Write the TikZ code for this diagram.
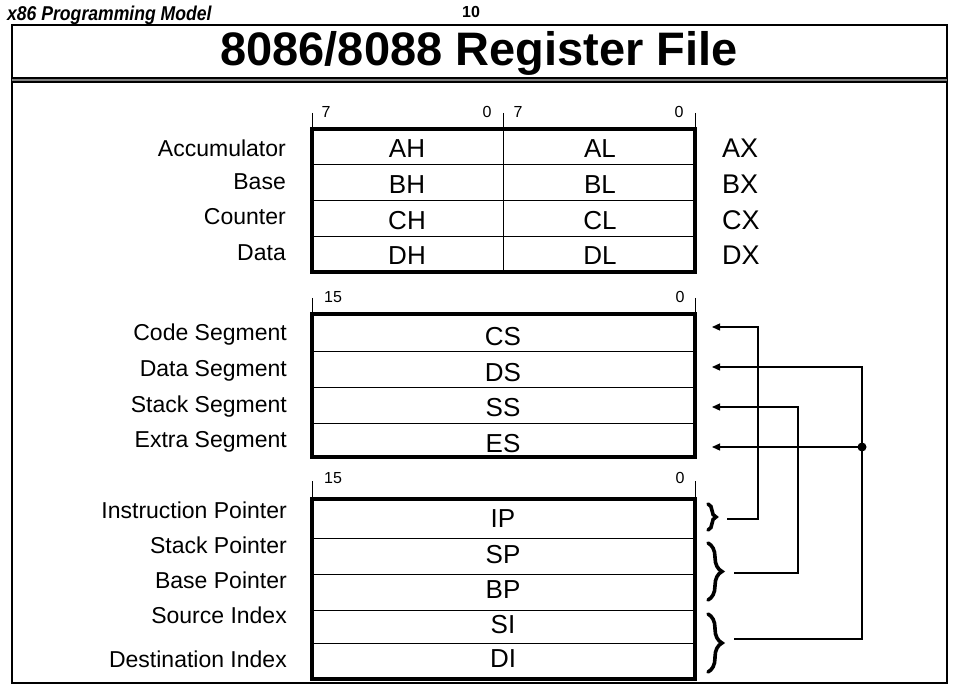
\documentclass[tikz,border=0pt]{standalone}
\usepackage{fontspec}
\setmainfont{Liberation Sans}
\usetikzlibrary{arrows.meta,decorations.pathreplacing}

\tikzset{
  regbox/.style={line width=4pt},
  rowline/.style={line width=1pt},
  regname/.style={anchor=base,inner sep=0,font=\fontsize{26}{30}\selectfont},
  pairname/.style={anchor=base west,inner sep=0,font=\fontsize{27}{30}\selectfont},
  reglabel/.style={anchor=base east,inner sep=0,font=\fontsize{23}{27}\selectfont},
  bitnum/.style={inner sep=0,font=\fontsize{16}{18}\selectfont},
  bittick/.style={line width=0.8pt},
  conn/.style={line width=1.3pt,-{Triangle[length=8pt,width=7pt]}},
  regbrace/.style={decorate,decoration={brace,amplitude=#1},line width=3.6pt,line cap=round},
}

\begin{document}
\begin{tikzpicture}[x=1pt,y=-1pt]
\useasboundingbox (0,0) rectangle (960,692);

% page header
\node[anchor=base west,inner sep=0,xscale=0.88,transform shape,font=\bfseries\itshape\fontsize{20}{22}\selectfont] (hdr) at (7,21) {x86 Programming Model};
\node[anchor=base,inner sep=0,font=\bfseries\fontsize{16}{18}\selectfont] (pageno) at (471,18) {10};

% slide frame and title
\draw[line width=1.5pt] (12,25) rectangle (947,683);
\node[anchor=base,inner sep=0,font=\bfseries\fontsize{47}{50}\selectfont] (title) at (479,66) {8086/8088 Register File};
\draw[line width=1.2pt] (12,78) -- (947,78);
\draw[gray,line width=1.5pt] (12,79.8) -- (947,79.8);
\draw[line width=2.2pt] (12,81.8) -- (947,81.8);

% general registers
\draw[regbox] (312,129) rectangle (695,272.5);
\foreach \y in {165,201,237} \draw[rowline] (312,\y) -- (695,\y);
\draw[rowline] (503,129) -- (503,272.5);
\foreach \x in {312,503,695} \draw[bittick] (\x,113) -- (\x,129);
\node[bitnum] (hi7) at (326,112) {7};
\node[bitnum] (hi0) at (487,112) {0};
\node[bitnum] (lo7) at (518,112) {7};
\node[bitnum] (lo0) at (679,112) {0};

\foreach \n/\y in {A/158,B/194,C/230,D/265} {
  \node[regname] (r\n h) at (407,\y) {\n H};
  \node[regname] (r\n l) at (600,\y) {\n L};
  \node[pairname] (r\n x) at (722,\y) {\n X};
}
\node[reglabel] (acc) at (286,157) {Accumulator};
\node[reglabel] (base) at (286,190) {Base};
\node[reglabel] (cnt) at (286,225) {Counter};
\node[reglabel] (data) at (286,261) {Data};

% segment registers
\draw[regbox] (312,314) rectangle (695,457);
\foreach \y in {351,387,423} \draw[rowline] (312,\y) -- (695,\y);
\foreach \x in {312,695} \draw[bittick] (\x,298) -- (\x,314);
\node[bitnum] (seg15) at (333,297) {15};
\node[bitnum] (seg0) at (680,297) {0};

\foreach \n/\y in {CS/345,DS/381,SS/416,ES/452}
  \node[regname] (\n) at (503,\y) {\n};
\node[reglabel] (cseg) at (287,340) {Code Segment};
\node[reglabel] (dseg) at (287,376) {Data Segment};
\node[reglabel] (sseg) at (287,412) {Stack Segment};
\node[reglabel] (eseg) at (287,447) {Extra Segment};

% pointer and index registers
\draw[regbox] (312,499) rectangle (695,679);
\foreach \y in {538,574,610,643} \draw[rowline] (312,\y) -- (695,\y);
\foreach \x in {312,695} \draw[bittick] (\x,481) -- (\x,499);
\node[bitnum] (ptr15) at (333,478) {15};
\node[bitnum] (ptr0) at (680,478) {0};

\foreach \n/\y in {IP/527,SP/563,BP/598,SI/633,DI/667}
  \node[regname] (\n) at (503,\y) {\n};
\node[reglabel] (iptr) at (287,518) {Instruction Pointer};
\node[reglabel] (sptr) at (287,553) {Stack Pointer};
\node[reglabel] (bptr) at (287,588) {Base Pointer};
\node[reglabel] (sidx) at (287,623) {Source Index};
\node[reglabel] (didx) at (287,667) {Destination Index};

% default segments
\draw[regbrace=8pt] (708,504) -- (708,530);
\draw[regbrace=14pt] (708,543) -- (708,600);
\draw[regbrace=14pt] (708,614) -- (708,672);

\coordinate (csin) at (712,327);
\coordinate (dsin) at (712,367);
\coordinate (ssin) at (712,407);
\coordinate (esin) at (712,447);
\coordinate (ipb) at (727,519);
\coordinate (spb) at (734,573);
\coordinate (sib) at (734,639);
\node[circle,fill,inner sep=0,minimum size=9pt] (dot) at (862,447) {};

\draw[conn] (ipb) -- ++(31,0) |- (csin);
\draw[conn] (spb) -- ++(64,0) |- (ssin);
\draw[conn] (sib) -- ++(128,0) |- (dsin);
\draw[conn] (dot.center) -- (esin);
\end{tikzpicture}
\end{document}
